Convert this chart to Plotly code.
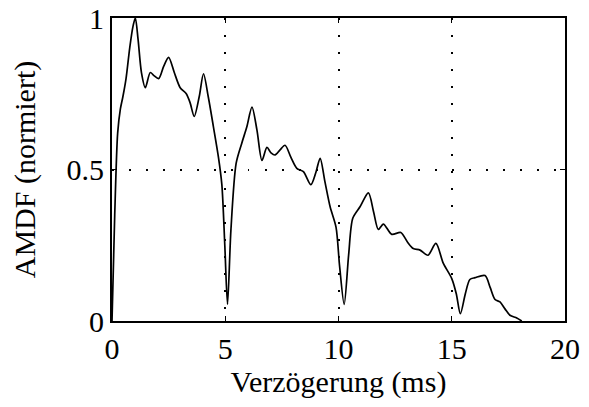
import plotly.graph_objects as go

delay_ms = [0.0, 0.12, 0.25, 0.37, 0.48, 0.62, 0.78, 0.92, 1.03, 1.15, 1.30, 1.47, 1.69, 1.85, 2.06, 2.28, 2.50, 2.75, 3.01, 3.28, 3.45, 3.63, 3.85, 4.04, 4.25, 4.48, 4.70, 4.85, 4.98, 5.10, 5.25, 5.48, 5.73, 5.95, 6.18, 6.40, 6.62, 6.84, 7.02, 7.20, 7.42, 7.64, 7.90, 8.16, 8.45, 8.78, 9.00, 9.19, 9.40, 9.63, 9.89, 10.05, 10.25, 10.45, 10.63, 10.95, 11.32, 11.55, 11.76, 11.98, 12.35, 12.75, 13.05, 13.30, 13.60, 13.95, 14.30, 14.63, 15.00, 15.20, 15.38, 15.60, 15.80, 16.03, 16.47, 16.70, 16.91, 17.13, 17.35, 17.57, 17.87, 18.09]
amdf_norm = [0.0, 0.35, 0.62, 0.70, 0.74, 0.80, 0.90, 0.97, 1.0, 0.93, 0.82, 0.77, 0.82, 0.81, 0.80, 0.84, 0.87, 0.82, 0.77, 0.75, 0.72, 0.675, 0.74, 0.816, 0.74, 0.64, 0.54, 0.45, 0.25, 0.055, 0.30, 0.52, 0.587, 0.64, 0.706, 0.63, 0.53, 0.573, 0.555, 0.548, 0.565, 0.58, 0.54, 0.504, 0.493, 0.45, 0.49, 0.537, 0.46, 0.377, 0.31, 0.18, 0.055, 0.22, 0.339, 0.377, 0.423, 0.36, 0.302, 0.32, 0.286, 0.292, 0.26, 0.239, 0.234, 0.217, 0.256, 0.19, 0.14, 0.09, 0.024, 0.09, 0.137, 0.143, 0.15, 0.11, 0.071, 0.063, 0.04, 0.019, 0.01, 0.0]

x_ticks = [0, 5, 10, 15, 20]
y_ticks = [0, 0.5, 1]
y_tick_labels = ["0", "0.5", "1"]

font = dict(family="Liberation Serif", size=30, color="black")

fig = go.Figure()
fig.add_trace(go.Scatter(
    x=delay_ms, y=amdf_norm, mode="lines",
    line=dict(color="black", width=1.7, shape="spline", smoothing=0.8),
    showlegend=False, hoverinfo="skip", cliponaxis=True,
))

axis_common = dict(
    showline=True, linecolor="black", linewidth=2, mirror="ticks",
    ticks="inside", ticklen=5, tickcolor="black", tickwidth=1,
    showgrid=True, gridcolor="black", griddash="1.5px,15.5px", gridwidth=1.5,
    zeroline=False, tickfont=font, title_font=font, automargin=False,
)

fig.update_layout(
    width=589, height=407,
    margin=dict(l=112, r=24, t=18, b=86),
    paper_bgcolor="white", plot_bgcolor="white",
    font=font,
    xaxis=dict(range=[0, 20], tickvals=x_ticks, title=dict(text="Verzögerung (ms)", standoff=2), **axis_common),
    yaxis=dict(range=[0, 1], tickvals=y_ticks, ticktext=y_tick_labels, title=dict(text="AMDF (normiert)", standoff=22), **axis_common),
)

fig.write_html("out.html")
